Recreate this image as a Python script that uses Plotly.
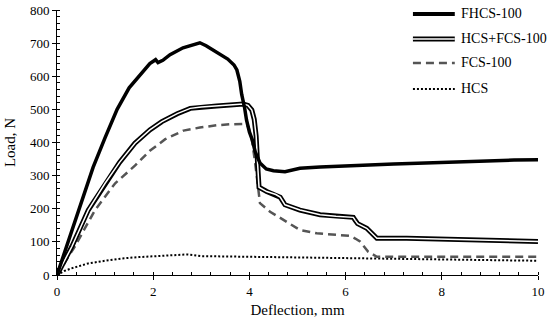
import plotly.graph_objects as go

# ---- data ----
fhcs_x = [0, 0.25, 0.5, 0.75, 1.0, 1.25, 1.5, 1.75, 1.93, 2.05, 2.1, 2.2, 2.35, 2.62, 2.8, 2.97, 3.1, 3.25, 3.39, 3.55, 3.68, 3.74, 3.8, 3.84, 3.9, 3.94, 4.0, 4.06, 4.12, 4.22, 4.35, 4.5, 4.74, 5.05, 5.47, 6.0, 6.5, 7.0, 7.5, 8.0, 8.5, 9.0, 9.5, 10.0]
fhcs_y = [0, 110, 220, 325, 415, 500, 565, 608, 638, 650, 641, 648, 665, 686, 693, 701, 692, 678, 665, 652, 634, 619, 585, 545, 505, 468, 432, 408, 372, 338, 320, 315, 312, 322, 326, 330, 333, 335, 337, 340, 342, 345, 347, 348]

hf_x = [0, 0.31, 0.65, 1.0, 1.3, 1.62, 1.93, 2.18, 2.5, 2.77, 3.0, 3.32, 3.6, 3.87, 3.97, 4.05, 4.1, 4.14, 4.17, 4.2, 4.36, 4.55, 4.64, 4.74, 5.05, 5.47, 5.8, 6.16, 6.2, 6.25, 6.44, 6.55, 6.65, 7.27, 8.0, 8.52, 9.0, 10.0]
hf_y = [0, 86, 196, 277, 340, 398, 438, 463, 487, 503, 507, 510, 513, 516, 512, 498, 470, 420, 337, 265, 252, 243, 235, 212, 196, 182, 177, 174, 165, 155, 141, 125, 111, 111, 108, 106, 104, 101]

fcs_x = [0, 0.37, 0.79, 1.21, 1.62, 1.93, 2.25, 2.63, 2.97, 3.32, 3.6, 3.87, 3.98, 4.06, 4.12, 4.18, 4.22, 4.43, 4.7, 5.05, 5.4, 5.8, 6.09, 6.2, 6.3, 6.47, 6.65, 7.5, 8.5, 10.0]
fcs_y = [0, 86, 196, 277, 330, 375, 410, 436, 445, 452, 455, 456, 448, 400, 338, 257, 217, 191, 166, 136, 126, 122, 118, 110, 101, 70, 55, 55, 55, 55]

hcs_x = [0, 0.15, 0.3, 0.65, 1.0, 1.35, 1.7, 2.2, 2.7, 2.85, 3.0, 3.5, 4.0, 5.0, 6.0, 7.0, 8.0, 9.0, 10.0]
hcs_y = [0, 12, 20, 35, 43, 50, 54, 58, 62, 60, 57, 56, 55, 53, 51, 49, 47, 45, 43]

x_ticks = [0, 2, 4, 6, 8, 10]
y_ticks = [0, 100, 200, 300, 400, 500, 600, 700, 800]

legend_names = ["FHCS-100", "HCS+FCS-100", "FCS-100", "HCS"]

FONT = "Liberation Serif"

fig = go.Figure()
fig.add_trace(go.Scatter(x=hcs_x, y=hcs_y, mode="lines", name="HCS",
                         line=dict(color="black", width=2, dash="2px,2px"), showlegend=False))
fig.add_trace(go.Scatter(x=fcs_x, y=fcs_y, mode="lines", name="FCS-100",
                         line=dict(color="#555555", width=2.5, dash="8px,5px"), showlegend=False))
fig.add_trace(go.Scatter(x=hf_x, y=hf_y, mode="lines", name="HCS+FCS-100",
                         line=dict(color="black", width=5), showlegend=False))
fig.add_trace(go.Scatter(x=hf_x, y=hf_y, mode="lines", name="HCS+FCS-100 (inner)",
                         line=dict(color="white", width=1.5), showlegend=False, hoverinfo="skip"))
fig.add_trace(go.Scatter(x=fhcs_x, y=fhcs_y, mode="lines", name="FHCS-100",
                         line=dict(color="black", width=3.5), showlegend=False))

# ---- manual legend (paper coordinates) ----
leg_y = [0.985, 0.891, 0.800, 0.702]
x0, x1, xt = 0.740, 0.827, 0.836
styles = [
    [dict(color="black", width=4)],
    [dict(color="black", width=5), dict(color="white", width=1.5)],
    [dict(color="#555555", width=2.5, dash="8px,5px")],
    [dict(color="black", width=2, dash="2px,2px")],
]
for name, yy, st in zip(legend_names, leg_y, styles):
    for s in st:
        fig.add_shape(type="line", xref="paper", yref="paper", x0=x0, x1=x1, y0=yy, y1=yy, line=s)
    fig.add_annotation(x=xt, y=yy, xref="paper", yref="paper", text=name, showarrow=False,
                       xanchor="left", yanchor="middle", font=dict(family=FONT, size=14, color="black"))

axis_common = dict(showgrid=False, zeroline=False, showline=True, linecolor="black", linewidth=1,
                   tickcolor="black", tickwidth=1, automargin=False,
                   tickfont=dict(family=FONT, size=13, color="black"))

fig.update_layout(
    width=550, height=325,
    margin=dict(l=57, r=12, t=10, b=50, autoexpand=False),
    paper_bgcolor="white", plot_bgcolor="white",
    font=dict(family=FONT, color="black"),
    xaxis=dict(range=[0, 10], tickvals=x_ticks, ticks="outside", ticklen=4,
               minor=dict(ticks="inside", dtick=0.4, tick0=0, ticklen=3, tickcolor="black"),
               title=dict(text="Deflection, mm", font=dict(family=FONT, size=15, color="black"), standoff=6),
               **axis_common),
    yaxis=dict(range=[0, 800], tickvals=y_ticks, ticks="outside", ticklen=4,
               minor=dict(ticks="inside", dtick=20, tick0=0, ticklen=3, tickcolor="black"),
               title=dict(text="Load, N", font=dict(family=FONT, size=15, color="black"), standoff=10),
               **axis_common),
    xaxis2=dict(range=[0, 10], tickvals=x_ticks, ticks="inside", ticklen=4, tickcolor="black",
                showticklabels=False, showline=False, showgrid=False, zeroline=False,
                overlaying="x", anchor="y", side="bottom", automargin=False),
    yaxis2=dict(range=[0, 800], tickvals=y_ticks, ticks="inside", ticklen=4, tickcolor="black",
                showticklabels=False, showline=False, showgrid=False, zeroline=False,
                overlaying="y", anchor="x", side="left", automargin=False),
    showlegend=False,
)

# remove the default page margin so the 550x325 figure fills the window exactly
fig.write_html("out.html",
               config={"displayModeBar": False},
               post_script="document.body.style.margin='0';"
                           "document.body.style.overflow='hidden';"
                           "document.documentElement.style.overflow='hidden';")
